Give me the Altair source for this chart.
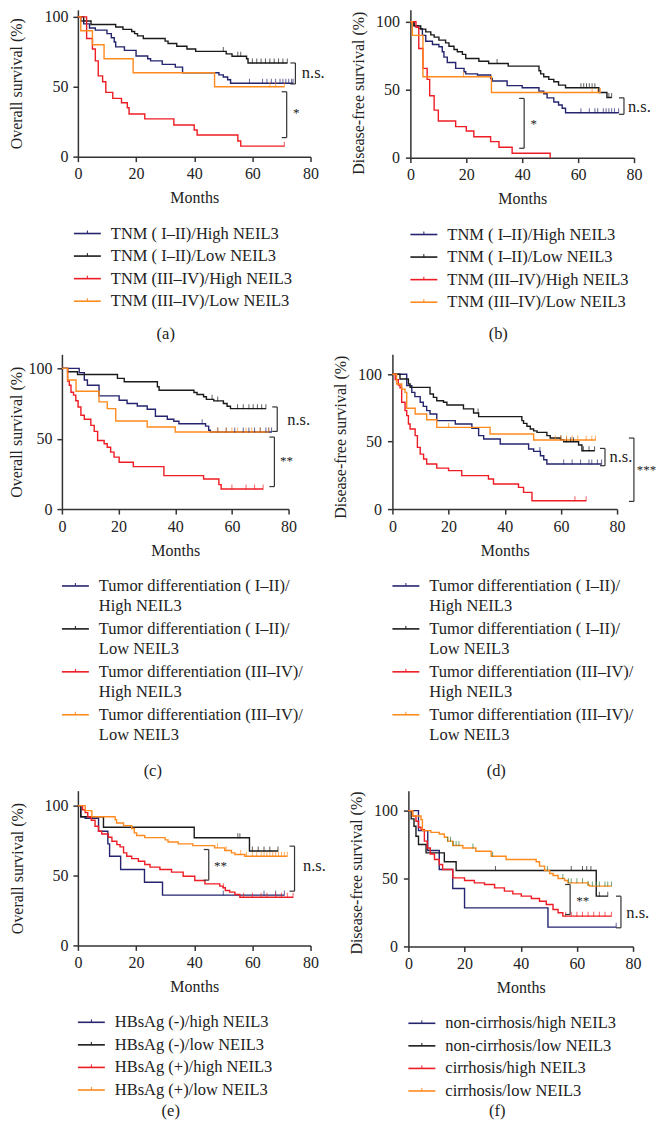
import altair as alt
import pandas as pd

FONT = "Liberation Serif"
BLUE, BLACK, RED, ORANGE, GREEN = "#25256f", "#1a1a1a", "#ee1c24", "#ff8a1e", "#2e7d32"
LINE_COLORS = [BLUE, BLACK, RED, ORANGE]

# ---------------- (a) TNM / overall survival ----------------
A1_T = [1, 2, 4, 6, 10, 11.5, 12.5, 13, 16, 20, 24, 25, 29, 33.5, 36, 48.5, 50, 51.5, 52.5]
A1_S = [97, 95, 92, 90.5, 88, 85, 82, 78.5, 76, 72, 70, 68.5, 66, 64, 60, 58.5, 57, 55, 52.5]
A1_C = [52.5, 59, 63.5, 65, 66.5, 68, 69.5, 70.5, 71.5, 72.5, 73.5, 74]
A2_T = [2, 4.5, 13, 15.5, 18.5, 19.5, 20.5, 22.5, 30, 31, 34, 37.5, 40.5, 51, 53, 58, 58.5]
A2_S = [97, 94.5, 92.7, 91, 89.5, 88, 86.4, 84.5, 82.6, 80.9, 79, 77, 75.3, 73.5, 71.8, 70, 67]
A2_C = [50, 55, 56, 60, 61.5, 63, 64.5, 66, 67.5, 69, 70.5, 72]
A3_T = [3, 5, 6, 7, 8.5, 9.6, 12, 15, 17, 17.6, 23, 33, 40, 41, 55, 56]
A3_S = [84.5, 77, 68.5, 57.8, 53.6, 46, 41.7, 38.5, 35, 30.5, 27, 22.6, 19, 15.5, 11.2, 7.5]
A3_C = [71]
A4_T = [1, 5, 9, 19, 47]
A4_S = [90, 80, 70, 60, 50]
A4_C = [66, 68, 71]

# ---------------- (b) TNM / disease-free survival ----------------
B1_T = [1.3, 3, 4.3, 5.5, 7.9, 10.2, 11.4, 12, 13.2, 16.2, 19.2, 19.8, 24, 28.7, 29.3, 34.6, 40, 46, 47.7, 48.9, 51.3, 53, 54.3, 55.5]
B1_S = [97, 95, 90, 85.7, 83.3, 81.6, 78, 74, 70, 65.7, 63.2, 61.7, 60.8, 58.3, 56.4, 53, 51.5, 49, 47, 44, 41, 38.7, 36.3, 33]
B1_C = [61, 64, 66, 67, 69, 70, 71, 72, 73, 74.5]
B2_T = [1.3, 3.7, 5.5, 7.3, 8.5, 10.2, 12.6, 13.8, 15.6, 16.8, 18.6, 19.8, 24.5, 28, 35, 46, 46.6, 47.7, 49.5, 51.3, 53, 55.5, 67.4, 70.3]
B2_S = [97, 94.6, 92.6, 90.4, 88.7, 86.5, 84.5, 82, 79.6, 77.9, 76, 73, 71, 69.3, 67.4, 64, 61.7, 59.5, 57.6, 55.9, 53.4, 51.5, 48, 44.3]
B2_C = [31, 61, 62, 63, 64, 65, 66, 71, 72]
B3_T = [2, 3, 4.5, 6, 6.9, 8.5, 10, 16.2, 20, 22.7, 28.7, 31.7, 36.4, 50]
B3_S = [96, 80.4, 65.7, 57.6, 45.6, 35, 27, 22.8, 19.6, 15.4, 11.8, 7.6, 3.2, 0]
B3_C = []
B4_T = [0.7, 4.5, 29]
B4_S = [90, 59.5, 48]
B4_C = [19, 65, 67, 68]

# ---------------- (c) differentiation / overall survival ----------------
C1_T = [6.1, 7.9, 9, 13.1, 20.2, 23, 26.6, 30.1, 33, 37.2, 39.5, 41.3, 50.7, 51.8, 52.4]
C1_S = [97, 91.7, 88, 80.5, 77.4, 75, 73.3, 71, 66, 63.8, 62.4, 60.7, 59, 56, 54.8]
C1_C = [49.5, 55, 58, 61, 64, 66, 68, 70, 72, 73, 74]
C2_T = [2, 5.5, 19.6, 22, 33.7, 34.3, 46.6, 47.7, 50, 51, 53.6, 57, 58.3, 59.5]
C2_S = [97.6, 95.7, 92.9, 90.5, 86.9, 84.5, 82.9, 81.4, 79.8, 78, 76.9, 75, 73.1, 71.4]
C2_C = [53, 55, 62, 64, 66, 67.5, 69, 70.5, 72]
C3_T = [2, 2.6, 3.2, 4.1, 4.9, 5.7, 6.7, 7.9, 10.2, 11.4, 12.6, 14.9, 16, 17.2, 18.4, 20.2, 25.2, 36, 50, 55.4, 56.2]
C3_S = [91, 88, 83, 81, 77, 72.6, 66.7, 63.8, 59.5, 55.2, 48.8, 46.4, 44, 40.5, 36.9, 33.3, 30.2, 23.8, 21.4, 17.4, 14.3]
C3_C = [60, 65, 68, 71]
C4_T = [2, 5, 13.1, 16, 19, 30.1, 40]
C4_S = [91.7, 83.8, 76.2, 71.4, 62.6, 58.3, 54.8]
C4_C = [55, 58, 60, 62, 65, 67, 70, 73]

# ---------------- (d) differentiation / disease-free survival ----------------
D1_T = [5.1, 6.9, 8, 9.9, 11, 12.2, 13.4, 15.8, 22.4, 28.3, 30.7, 32.5, 38.4, 48.5, 50.3, 52.7, 53.9, 55]
D1_S = [91.6, 86.6, 83.4, 79.2, 76.2, 73, 70.5, 65.6, 63.1, 59.9, 54.5, 52, 48.3, 44.6, 42.8, 39.6, 36.6, 33.4]
D1_C = [52.5, 61, 64, 67, 70, 71, 73, 74.5]
D2_T = [2.7, 5.7, 6.3, 13.4, 14.6, 15.8, 18.2, 19.4, 25.3, 28.9, 30.7, 46.1, 46.7, 47.9, 49.1, 50.3, 51.5, 55, 56.2, 59.8, 61, 66.3, 67.5]
D2_S = [96.5, 92.8, 90.3, 85.4, 82.9, 80.4, 79.2, 77.2, 74.3, 71.3, 68.6, 65.6, 63.6, 61.5, 59.4, 58, 56.9, 54.5, 52.7, 51.5, 50, 47.5, 43.3]
D2_C = [30.5, 60, 62, 63.5, 64.5, 68, 70, 72]
D3_T = [1, 2.1, 2.7, 3.3, 4.5, 5.1, 5.7, 6.3, 8.1, 8.9, 9.9, 11.1, 12.2, 15.8, 20, 24.7, 34.2, 36, 44.9, 46.7, 49.7]
D3_S = [96, 92, 90, 79.2, 73, 69.3, 63.1, 59.4, 54.5, 45.8, 40.8, 37.1, 33.4, 30.4, 28.5, 24.8, 22.3, 18.6, 16.1, 12.4, 6.2]
D3_C = [65, 69]
D4_T = [1.5, 3.3, 4.5, 5.1, 8.1, 12.2, 15.8, 34.8, 50.3]
D4_S = [92.8, 89, 86.6, 74.8, 70.5, 66.3, 60.6, 55.7, 51.2]
D4_C = [20, 58, 60, 62, 64, 66, 69, 71, 72.3]

# ---------------- (e) HBsAg / overall survival ----------------
E1_T = [1, 2.5, 7.1, 10.3, 10.9, 14.7, 22.9, 29.1]
E1_S = [92, 91, 81.7, 72.6, 63.8, 54.3, 45.2, 36]
E1_C = [50, 64, 68, 71]
E2_T = [1, 8.8, 40, 59]
E2_S = [92, 84.5, 77, 67.5]
E2_C = [55, 55.7, 60, 62, 64, 66, 68.8]
E3_T = [1.6, 2.5, 3.4, 4.6, 5.9, 7.1, 8.2, 10.5, 11.7, 13.4, 14.5, 15.7, 16.8, 18.5, 20.8, 23, 24.8, 28.2, 32.2, 36.2, 40.2, 43.7, 48.8, 49.9, 50.7, 52.2, 54, 55.7]
E3_S = [97, 95, 92, 89.5, 85.2, 81.7, 79.7, 77.4, 74.5, 72.1, 70.5, 66.2, 63.8, 62.1, 60.2, 57.9, 56, 54.3, 52.4, 49.5, 46.4, 44, 42.4, 41.2, 39.3, 38.1, 36.4, 34.5]
E3_C = [50, 57, 60, 63, 65, 68, 70, 72, 74]
E4_T = [2.5, 4.8, 12.8, 13.3, 15.7, 18.5, 19.4, 20.2, 23, 30, 31, 34.5, 39.5, 47, 50.5, 52.8, 54, 57.4]
E4_S = [96.4, 92, 90, 87.6, 85.7, 83.6, 80.5, 78.6, 77.1, 75.5, 74, 72.6, 71.4, 69.8, 67.9, 66.2, 65, 63.8]
E4_C = [48, 51, 56, 58, 60, 61.5, 63, 64, 65, 66, 67, 68, 69, 70, 71, 72]

# ---------------- (f) cirrhosis / disease-free survival ----------------
F1_T = [3.6, 6.9, 11, 15.8, 20, 49.7]
F1_S = [85.3, 70.6, 56.6, 42.6, 28.4, 14.2]
F1_C = [74]
F2_T = [1, 2, 2.7, 3.6, 6.3, 12.8, 17, 66.9]
F2_S = [93.9, 88.5, 81.1, 75, 68.9, 62.3, 55.9, 37]
F2_C = [31, 58, 62, 63.5, 65, 68, 71]
F3_T = [1.5, 2.7, 3.6, 4.5, 5.7, 6.7, 7.8, 9.3, 11, 12.2, 15.8, 20, 23.5, 27.1, 30.7, 34.2, 37.2, 40.2, 43.8, 46.7, 49.1, 51.5, 53.3, 55]
F3_S = [96, 92.2, 87.7, 86, 77.5, 72.5, 68.1, 64, 60.3, 56.6, 50.5, 48.5, 46.8, 45.6, 43.1, 40.7, 38.7, 37, 35.3, 33.3, 30.9, 27.2, 24.8, 22.3]
F3_C = [56, 58, 60, 62, 64, 66, 68, 70, 72.3]
F4_T = [1.5, 4.5, 5, 8, 11, 12.8, 14, 15.8, 19.4, 24, 29.5, 34.8, 45.5, 46.7, 48.5, 50.3, 51.5, 53.3, 55.6, 56.8, 64, 64.6]
F4_S = [96, 93.4, 85.3, 84, 82.8, 80.4, 77.5, 74.3, 72.5, 70.1, 66.4, 64, 62.3, 59.1, 55.9, 53.7, 52.2, 50, 48.5, 46.8, 45.1, 44.4]
F4_C = [14, 15, 16, 17, 18, 23, 30, 49.5, 55, 57, 58, 60, 62, 64, 65.5, 67, 68, 70, 71, 72.3]

# ---------------- legend labels ----------------
LAB_A = [["TNM ( I–II)/High NEIL3"], ["TNM ( I–II)/Low NEIL3"],
         ["TNM (III–IV)/High NEIL3"], ["TNM (III–IV)/Low NEIL3"]]
LAB_C = [["Tumor differentiation ( I–II)/", "High NEIL3"], ["Tumor differentiation ( I–II)/", "Low NEIL3"],
         ["Tumor differentiation (III–IV)/", "High NEIL3"], ["Tumor differentiation (III–IV)/", "Low NEIL3"]]
LAB_E = [["HBsAg (-)/high NEIL3"], ["HBsAg (-)/low NEIL3"], ["HBsAg (+)/high NEIL3"], ["HBsAg (+)/low NEIL3"]]
LAB_F = [["non-cirrhosis/high NEIL3"], ["non-cirrhosis/low NEIL3"], ["cirrhosis/high NEIL3"], ["cirrhosis/low NEIL3"]]

# significance brackets: (x month, y top, y bottom) and labels: (text, x month, y)
BR_A = [(74.8, 67, 52), (71.8, 46.4, 13.6)]
SG_A = [("n.s.", 77.0, 59.5), ("*", 74.0, 31)]
BR_B = [(76.4, 44, 31.9), (40.7, 43.6, 6.9)]
SG_B = [("n.s.", 77.8, 37.5), ("*", 43.0, 25)]
BR_C = [(76, 72.6, 55.2), (75, 51.2, 16)]
SG_C = [("n.s.", 79.5, 63), ("**", 77.0, 34)]
BR_D = [(75.7, 45, 32.2), (86.0, 52.7, 5.7)]
SG_D = [("n.s.", 77.3, 38.4), ("***", 87.0, 29)]
BR_E = [(45, 68.6, 46.7), (74.5, 71, 38.8)]
SG_E = [("**", 46.8, 56.5), ("n.s.", 77.4, 56.7)]
BR_F = [(57.6, 45.6, 23.5), (75.7, 37, 13.7)]
SG_F = [("**", 59.8, 33.5), ("n.s.", 77.6, 24.8)]


def surv_at(t, s, x):
    v = 100
    for ti, si in zip(t, s):
        if ti <= x:
            v = si
    return v


def panel(curves, tick_colors, labels, ytitle, ymax, w, h, brackets, sigs,
          caption, cap_x, cap_dy, leg_x, two_line, title_pad, label_pad, title_shift=0, x_shift=0):
    line_rows, cens_rows = [], []
    for k, (t, s, c) in enumerate(curves):
        end = max([t[-1]] + list(c))
        xs = [0] + list(t) + [end]
        ys = [100] + list(s) + [s[-1]]
        for j, (x, y) in enumerate(zip(xs, ys)):
            line_rows.append({"t": x, "s": y, "g": f"g{k}", "o": j, "col": LINE_COLORS[k]})
        for x in c:
            cens_rows.append({"t": x, "s": surv_at(t, s, x), "col": tick_colors[k]})
    ldf = pd.DataFrame(line_rows)
    cdf = pd.DataFrame(cens_rows)

    xaxis = alt.Axis(values=[0, 20, 40, 60, 80], title="Months", labelFlush=False,
                     tickSize=5, labelPadding=4, titlePadding=8)
    yargs = dict(values=[0, 50, 100], title=ytitle, labelFlush=False,
                 tickSize=5, labelPadding=label_pad, titlePadding=title_pad)
    if title_shift:
        yargs["titleY"] = h / 2 + title_shift
    if x_shift:
        yargs["offset"] = x_shift
    yaxis = alt.Axis(**yargs)
    if x_shift:
        xs = alt.Scale(domain=[0, 80], nice=False, zero=False, range=[-x_shift, w - x_shift])
    else:
        xs = alt.Scale(domain=[0, 80], nice=False, zero=False)
    ys = alt.Scale(domain=[0, ymax], nice=False)

    lines = alt.Chart(ldf).mark_line(interpolate="step-after", strokeWidth=1.4).encode(
        x=alt.X("t:Q", scale=xs, axis=xaxis),
        y=alt.Y("s:Q", scale=ys, axis=yaxis),
        color=alt.Color("col:N", scale=None),
        detail="g:N",
        order="o:Q",
    )
    ticks = alt.Chart(cdf).mark_tick(orient="vertical", size=5, thickness=1, yOffset=-2).encode(
        x=alt.X("t:Q", scale=xs, axis=xaxis), y=alt.Y("s:Q", scale=ys, axis=yaxis),
        color=alt.Color("col:N", scale=None),
    )

    tick_len = 5.0 / w * 80
    bv = pd.DataFrame([{"t": b[0], "s": b[1], "s2": b[2]} for b in brackets])
    bh = pd.DataFrame([{"t": b[0] - tick_len, "t2": b[0], "s": yy} for b in brackets for yy in (b[1], b[2])])
    br_v = alt.Chart(bv).mark_rule(color="#333", strokeWidth=1.2).encode(
        x=alt.X("t:Q", scale=xs, axis=xaxis), y=alt.Y("s:Q", scale=ys, axis=yaxis), y2="s2:Q")
    br_h = alt.Chart(bh).mark_rule(color="#333", strokeWidth=1.2).encode(
        x=alt.X("t:Q", scale=xs, axis=xaxis), x2="t2:Q", y=alt.Y("s:Q", scale=ys, axis=yaxis))
    sdf = pd.DataFrame([{"txt": s[0], "t": s[1], "s": s[2], "fs": 13 if "*" in s[0] else 16.5} for s in sigs])
    sig = alt.Chart(sdf).mark_text(align="left", baseline="middle", font=FONT, color="#222").encode(
        x=alt.X("t:Q", scale=xs, axis=xaxis), y=alt.Y("s:Q", scale=ys, axis=yaxis), text="txt:N",
        size=alt.Size("fs:Q", scale=None))

    # legend below the plot (pixel positions relative to plot origin)
    lx = leg_x - x_shift
    sym_rows, txt_rows = [], []
    entry_gap = 43 if two_line else 22.6
    for k, lines_txt in enumerate(labels):
        y0 = h + 77 + entry_gap * k
        sym_rows.append({"px0": lx, "px1": lx + 27, "pm": lx + 13.5, "py": y0, "py2": y0 - 3,
                         "col": LINE_COLORS[k]})
        for j, tx in enumerate(lines_txt):
            txt_rows.append({"px": lx + 37, "py": y0 + 20 * j, "txt": tx})
    sym_df = pd.DataFrame(sym_rows)
    txt_df = pd.DataFrame(txt_rows)
    leg_line = alt.Chart(sym_df).mark_rule(strokeWidth=1.6).encode(
        x=alt.X("px0:Q", scale=None), x2="px1:Q", y=alt.Y("py:Q", scale=None),
        color=alt.Color("col:N", scale=None))
    leg_tick = alt.Chart(sym_df).mark_rule(strokeWidth=1).encode(
        x=alt.X("pm:Q", scale=None), y=alt.Y("py:Q", scale=None), y2="py2:Q",
        color=alt.Color("col:N", scale=None))
    leg_txt = alt.Chart(txt_df).mark_text(align="left", baseline="middle", font=FONT, fontSize=16.5,
                                          color="#222").encode(
        x=alt.X("px:Q", scale=None), y=alt.Y("py:Q", scale=None), text="txt:N")
    cap_df = pd.DataFrame([{"px": cap_x - x_shift, "py": h + cap_dy, "txt": caption}])
    cap = alt.Chart(cap_df).mark_text(align="center", baseline="middle", font=FONT, fontSize=16.5,
                                      color="#222").encode(
        x=alt.X("px:Q", scale=None), y=alt.Y("py:Q", scale=None), text="txt:N")

    return alt.layer(lines, ticks, br_v, br_h, sig, leg_line, leg_tick, leg_txt, cap).properties(
        width=w - x_shift, height=h)


norm = LINE_COLORS
f_ticks = [BLUE, BLACK, RED, GREEN]

pa = panel([(A1_T, A1_S, A1_C), (A2_T, A2_S, A2_C), (A3_T, A3_S, A3_C), (A4_T, A4_S, A4_C)], norm, LAB_A,
           "Overall survival (%)", 105, 233, 147, BR_A, SG_A, "(a)", 88, 178, -4, False, 19, 5)
pb = panel([(B1_T, B1_S, B1_C), (B2_T, B2_S, B2_C), (B3_T, B3_S, B3_C), (B4_T, B4_S, B4_C)], norm, LAB_A,
           "Disease-free survival (%)", 108.8, 224, 148, BR_B, SG_B, "(b)", 88, 177, 0, False, 8.5, 6, 9)
pc = panel([(C1_T, C1_S, C1_C), (C2_T, C2_S, C2_C), (C3_T, C3_S, C3_C), (C4_T, C4_S, C4_C)], norm, LAB_C,
           "Overall survival (%)", 110, 227, 155, BR_C, SG_C, "(c)", 91, 262, 0, True, 3.5, 5, 0, 16)
pd_ = panel([(D1_T, D1_S, D1_C), (D2_T, D2_S, D2_C), (D3_T, D3_S, D3_C), (D4_T, D4_S, D4_C)], norm, LAB_C,
            "Disease-free survival (%)", 114.8, 225, 155, BR_D, SG_D, "(d)", 104, 262, 0, True, 8.5, 6, 5)
pe = panel([(E1_T, E1_S, E1_C), (E2_T, E2_S, E2_C), (E3_T, E3_S, E3_C), (E4_T, E4_S, E4_C)], norm, LAB_E,
           "Overall survival (%)", 110.7, 233, 155, BR_E, SG_E, "(e)", 93, 166, 0, False, 18.5, 5)
pf = panel([(F1_T, F1_S, F1_C), (F2_T, F2_S, F2_C), (F3_T, F3_S, F3_C), (F4_T, F4_S, F4_C)], f_ticks, LAB_F,
           "Disease-free survival (%)", 114.7, 225, 156, BR_F, SG_F, "(f)", 89, 165, 0, False, 8.5, 6, 4)

row1 = alt.hconcat(pa, pb, spacing=25)
row2 = alt.hconcat(pc, pd_, spacing=22)
row3 = alt.hconcat(pe, pf, spacing=22)

chart = alt.vconcat(row1, row2, row3, spacing=11).properties(
    padding={"left": 0, "top": 0, "right": 0, "bottom": 0}
).configure_view(stroke=None).configure_axis(
    labelFont=FONT, titleFont=FONT, labelFontSize=16, titleFontSize=16, titleFontWeight="normal",
    labelColor="#222", titleColor="#222", domainColor="#333", tickColor="#333",
    domainWidth=1.5, tickWidth=1.5, grid=False,
)

chart.save("out.html", embed_options={"renderer": "svg", "actions": False})
